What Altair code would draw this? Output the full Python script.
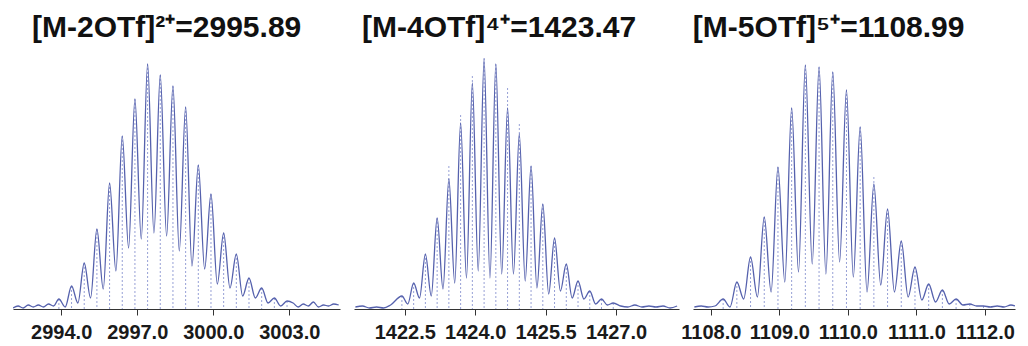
import altair as alt
import pandas as pd

# ---------------- Panel 1: [M-2OTf]2+ ----------------
p1_peak_mz = [2993.91, 2994.41, 2994.91, 2995.41, 2995.91, 2996.41, 2996.91, 2997.41, 2997.91,
              2998.41, 2998.91, 2999.41, 2999.91, 3000.41, 3000.91, 3001.41, 3001.91, 3002.41, 3002.91]
p1_peak_int = [10, 23, 46, 80, 126, 173, 210, 245, 234, 223, 202, 144, 115, 76, 55, 31, 21, 11, 8]
p1_stick_int = [10, 23, 46, 80, 126, 173, 210, 245, 234, 223, 202, 144, 115, 76, 55, 31, 21, 11, 8]
p1_valley_mz = [2994.16, 2994.66, 2995.16, 2995.66, 2996.16, 2996.66, 2997.16, 2997.66, 2998.16,
                2998.66, 2999.16, 2999.66, 3000.16, 3000.66, 3001.16, 3001.66, 3002.16, 3002.66]
p1_valley_int = [2, 6, 11, 20, 38, 61, 70, 76, 73, 58, 43, 40, 25, 21, 13, 11, 6, 3]
p1_noise_mz = [2992.1, 2992.3, 2992.5, 2992.7, 2992.9, 2993.1, 2993.3, 2993.5, 2993.7,
               3003.15, 3003.35, 3003.55, 3003.75, 3003.95, 3004.15, 3004.35, 3004.55, 3004.75, 3004.95]
p1_noise_int = [1, 3, 1, 4, 2, 4, 2, 5, 3,
                6, 2, 5, 3, 7, 2, 4, 3, 5, 4]
p1_domain = [2992.1, 3005.0]
p1_ticks = [2994.0, 2997.0, 3000.0, 3003.0]
p1_title = "[M-2OTf]²⁺=2995.89"

# ---------------- Panel 2: [M-4OTf]4+ ----------------
p2_peak_mz = [1422.44, 1422.69, 1422.94, 1423.19, 1423.44, 1423.69, 1423.94, 1424.19, 1424.44, 1424.69,
              1424.94, 1425.19, 1425.44, 1425.69, 1425.94, 1426.19, 1426.44, 1426.69, 1426.94]
p2_peak_int = [13, 26, 55, 91, 130, 186, 226, 250, 245, 201, 175, 143, 105, 71, 45, 28, 18, 10, 6]
p2_stick_int = [13, 26, 55, 91, 143, 194, 233, 251, 245, 221, 185, 143, 105, 71, 45, 28, 18, 10, 6]
p2_valley_mz = [1422.565, 1422.815, 1423.065, 1423.315, 1423.565, 1423.815, 1424.065, 1424.315, 1424.565,
                1424.815, 1425.065, 1425.315, 1425.565, 1425.815, 1426.065, 1426.315, 1426.565, 1426.815]
p2_valley_int = [5, 11, 13, 20, 26, 31, 38, 31, 35, 35, 28, 21, 15, 18, 11, 10, 5, 4]
p2_noise_mz = [1421.45, 1421.6, 1421.75, 1421.9, 1422.05, 1422.2,
               1427.1, 1427.25, 1427.4, 1427.55, 1427.7, 1427.85, 1428.0, 1428.15, 1428.3]
p2_noise_int = [2, 3, 1, 2, 1, 4,
                3, 2, 4, 2, 3, 2, 3, 1, 3]
p2_domain = [1421.42, 1428.34]
p2_ticks = [1422.5, 1424.0, 1425.5, 1427.0]
p2_title = "[M-4OTf]⁴⁺=1423.47"

# ---------------- Panel 3: [M-5OTf]5+ ----------------
p3_peak_mz = [1108.18, 1108.38, 1108.58, 1108.78, 1108.98, 1109.18, 1109.38, 1109.58, 1109.78, 1109.98,
              1110.18, 1110.38, 1110.58, 1110.78, 1110.98, 1111.18, 1111.38, 1111.58, 1111.78, 1111.98]
p3_peak_int = [10, 27, 52, 92, 142, 201, 244, 242, 237, 219, 182, 125, 100, 68, 42, 25, 19, 10, 5, 3]
p3_stick_int = [10, 27, 52, 92, 142, 201, 244, 242, 237, 219, 182, 132, 100, 68, 42, 25, 19, 10, 5, 3]
p3_valley_mz = [1108.28, 1108.48, 1108.68, 1108.88, 1109.08, 1109.28, 1109.48, 1109.68, 1109.88, 1110.08,
                1110.28, 1110.48, 1110.68, 1110.88, 1111.08, 1111.28, 1111.48, 1111.68, 1111.88]
p3_valley_int = [2, 10, 12, 17, 27, 37, 45, 35, 47, 32, 17, 24, 17, 12, 9, 7, 5, 4, 3]
p3_noise_mz = [1107.76, 1107.86, 1107.96, 1108.06,
               1112.08, 1112.18, 1112.28, 1112.38, 1112.44]
p3_noise_int = [2, 3, 2, 3,
                2, 3, 2, 4, 3]
p3_domain = [1107.74, 1112.44]
p3_ticks = [1108.0, 1109.0, 1110.0, 1111.0, 1112.0]
p3_title = "[M-5OTf]⁵⁺=1108.99"

LINE_COLOR = "#5561ad"
STICK_COLOR = "#97a0d6"
Y_MAX = 258


def panel(peak_mz, peak_int, stick_int, valley_mz, valley_int, noise_mz, noise_int,
          domain, ticks, title, width, title_dx):
    prof = pd.DataFrame({
        "mz": list(peak_mz) + list(valley_mz) + list(noise_mz),
        "intensity": list(peak_int) + list(valley_int) + list(noise_int),
    }).sort_values("mz")
    sticks = pd.DataFrame({"mz": peak_mz, "intensity": stick_int})

    xscale = alt.Scale(domain=domain, nice=False, zero=False)
    xaxis = alt.Axis(values=ticks, format=".1f", title=None, grid=False,
                     domainColor="#333333", tickColor="#333333", tickSize=6,
                     labelFontSize=20, labelColor="#1a1a1a", labelFont="Liberation Sans",
                     labelFontWeight="bold",
                     labelPadding=7, labelFlush=False, labelOverlap=False)
    yscale = alt.Scale(domain=[0, Y_MAX], nice=False, zero=True)

    rules = alt.Chart(sticks).mark_rule(
        color=STICK_COLOR, strokeDash=[2, 2], strokeWidth=1
    ).encode(
        x=alt.X("mz:Q", scale=xscale, axis=xaxis),
        y=alt.Y("intensity:Q", scale=yscale, axis=None),
        y2=alt.datum(0),
    )
    line = alt.Chart(prof).mark_line(
        color=LINE_COLOR, strokeWidth=1.3, interpolate="monotone", clip=True
    ).encode(
        x=alt.X("mz:Q", scale=xscale, axis=xaxis),
        y=alt.Y("intensity:Q", scale=yscale, axis=None),
    )
    return alt.layer(rules, line).properties(
        width=width, height=Y_MAX,
        title=alt.TitleParams(title, anchor="start", dx=title_dx, fontSize=30,
                              font="Liberation Sans", fontWeight="bold",
                              color="#111111", offset=8),
    )


c1 = panel(p1_peak_mz, p1_peak_int, p1_stick_int, p1_valley_mz, p1_valley_int,
           p1_noise_mz, p1_noise_int, p1_domain, p1_ticks, p1_title, 327, 19)
c2 = panel(p2_peak_mz, p2_peak_int, p2_stick_int, p2_valley_mz, p2_valley_int,
           p2_noise_mz, p2_noise_int, p2_domain, p2_ticks, p2_title, 325, 8)
c3 = panel(p3_peak_mz, p3_peak_int, p3_stick_int, p3_valley_mz, p3_valley_int,
           p3_noise_mz, p3_noise_int, p3_domain, p3_ticks, p3_title, 322, 12)

chart = alt.hconcat(c1, c2, c3, spacing=14, bounds="flush").configure(
    background="white"
).configure_view(stroke=None)

chart.save("out.html", embed_options={"renderer": "svg", "actions": False})
